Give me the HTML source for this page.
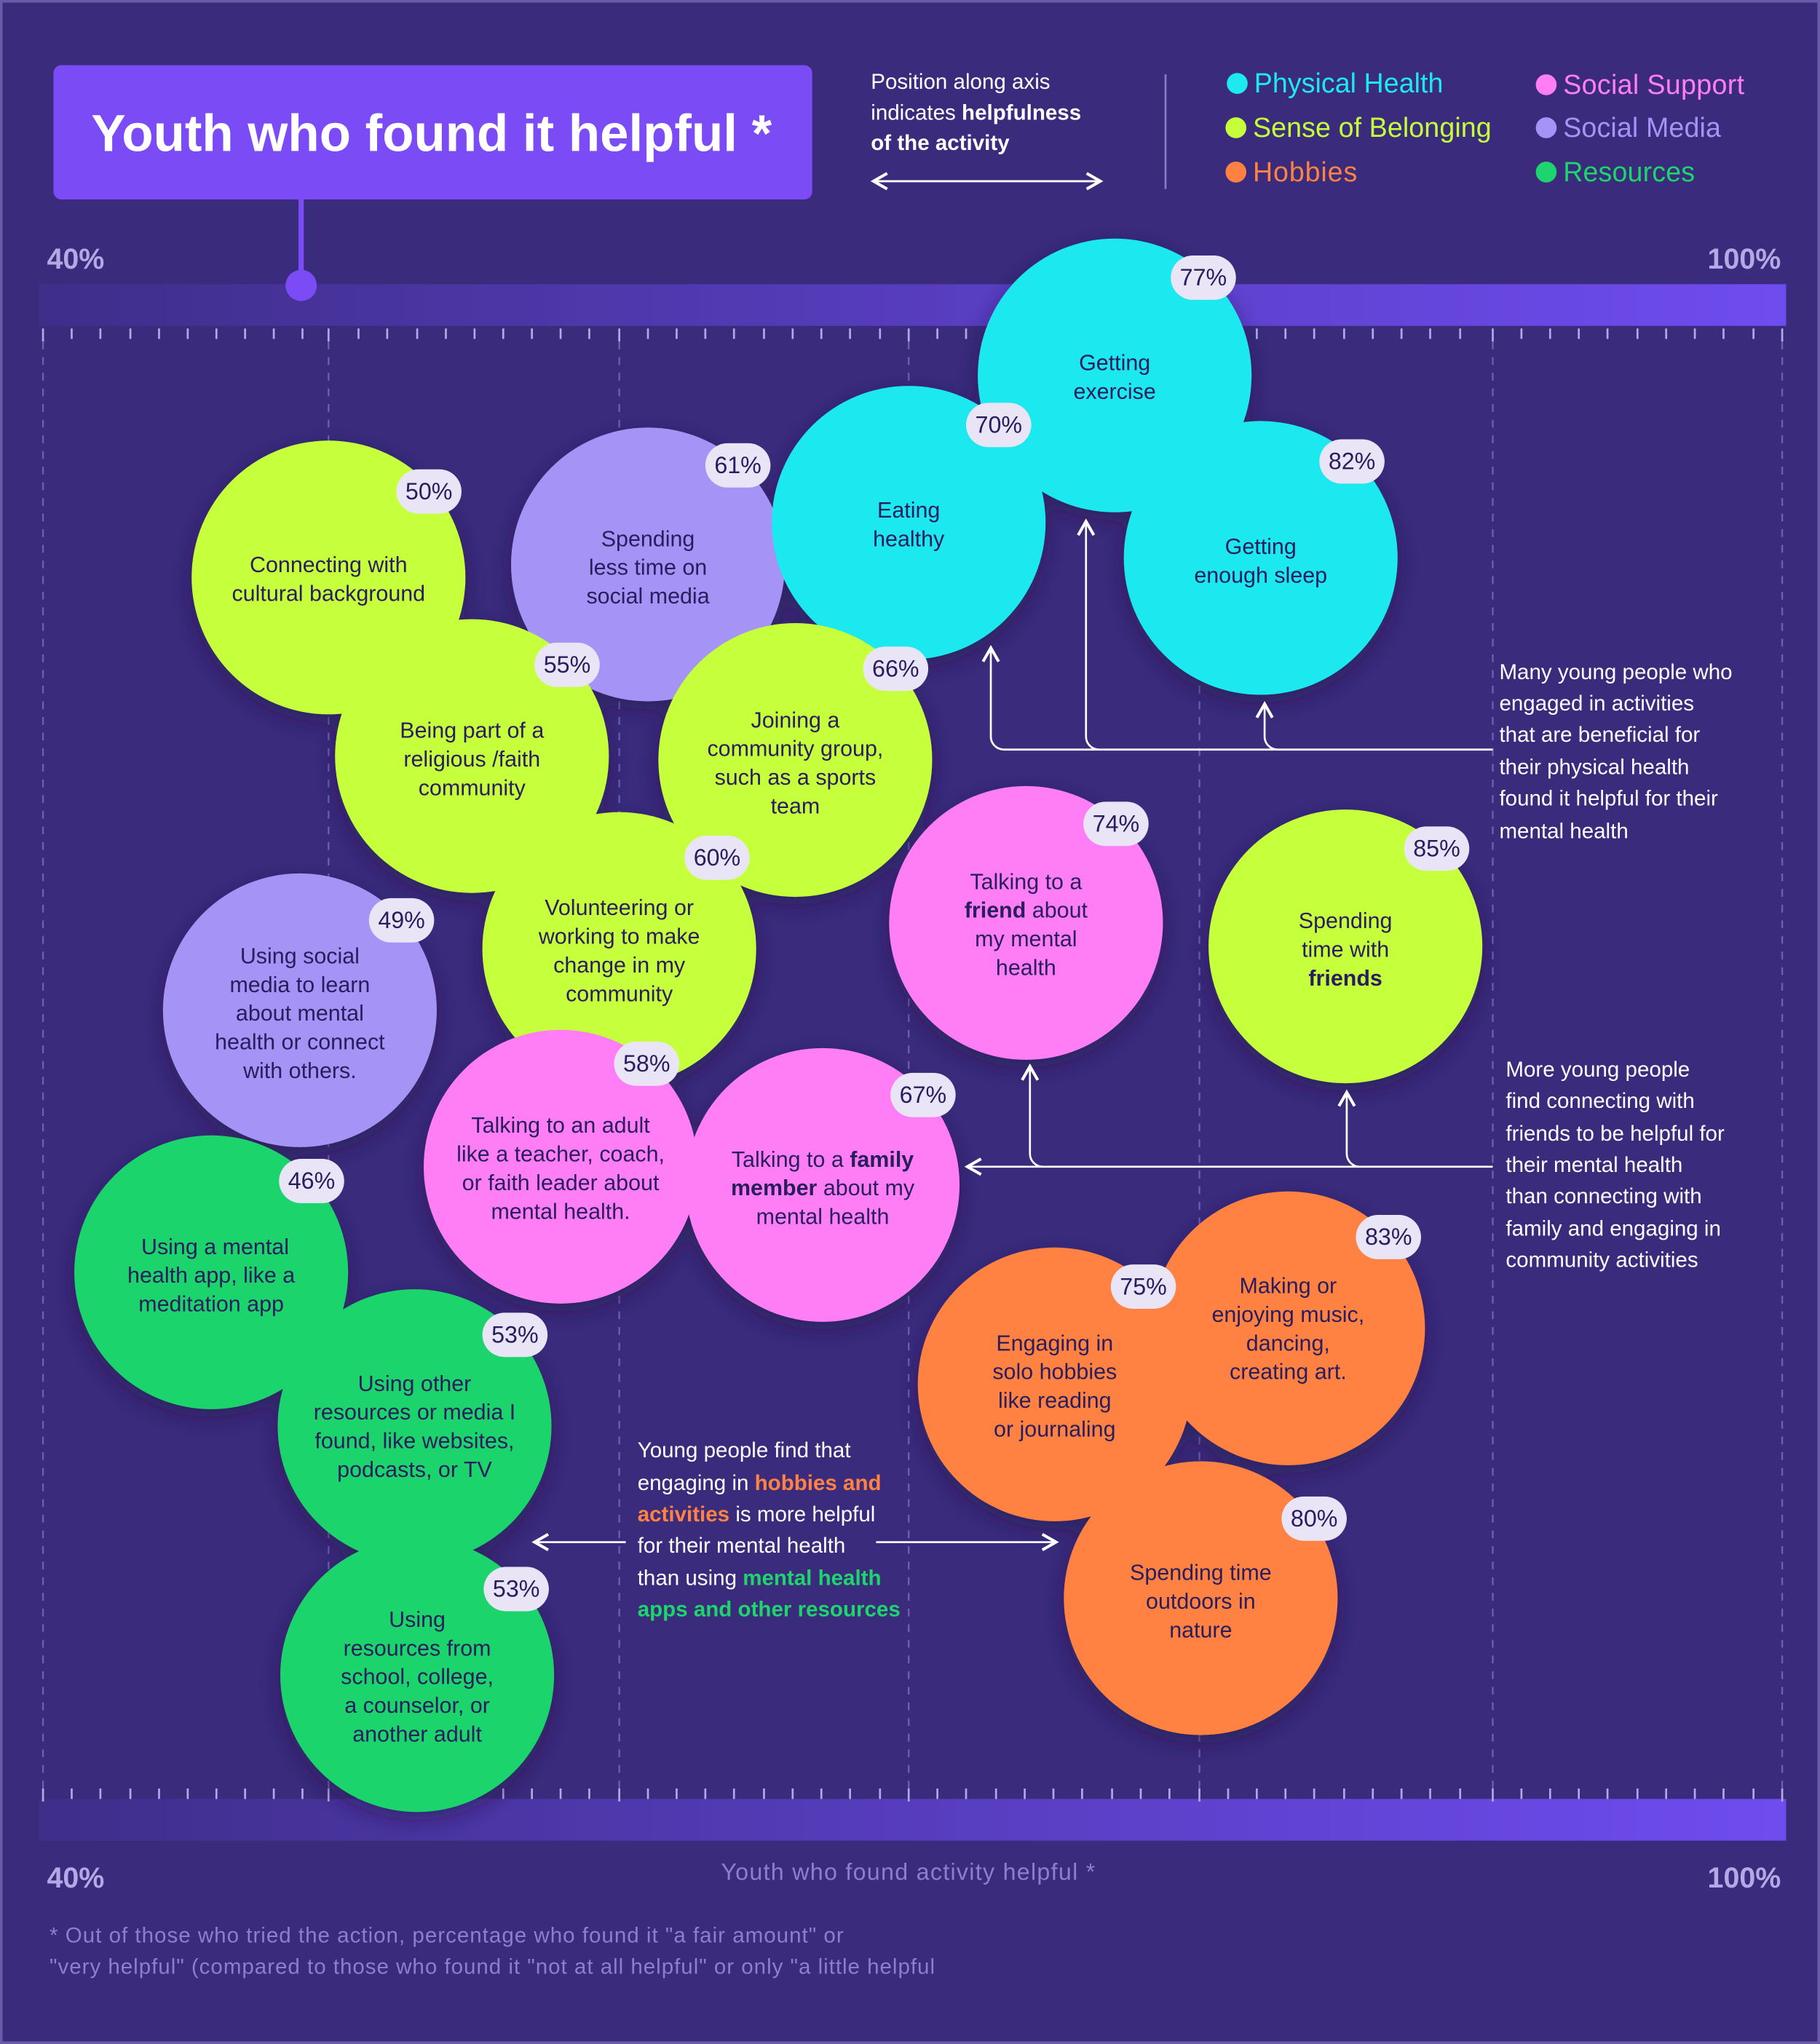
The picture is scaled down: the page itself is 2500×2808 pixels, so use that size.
<!DOCTYPE html>
<html><head><meta charset="utf-8"><style>
html,body{margin:0;padding:0;background:#3a2b7c;}
svg{display:block;font-family:"Liberation Sans",sans-serif;}
.c{font-size:17px;fill:#2a1d5e;text-anchor:middle;}
.b{font-size:18px;fill:#2a1d5e;text-anchor:middle;}
.w{font-size:16.5px;fill:#fff;}
</style></head><body>
<svg width="2500" height="2808" viewBox="0 0 1396 1568" preserveAspectRatio="none" xmlns="http://www.w3.org/2000/svg">
<defs>
<linearGradient id="bar" x1="0" x2="1"><stop offset="0" stop-color="#3f2e8a"/><stop offset="1" stop-color="#6e4cf0"/></linearGradient>
<filter id="sh" x="-30%" y="-30%" width="160%" height="160%"><feDropShadow dx="0" dy="6" stdDeviation="8" flood-color="#1a1040" flood-opacity="0.5"/></filter>
<marker id="ah" markerWidth="10" markerHeight="10" refX="8" refY="5" orient="auto"><path d="M1,1 L8,5 L1,9" fill="none" stroke="#fff" stroke-width="1.5"/></marker>
</defs>
<rect width="1396" height="1568" fill="#3a2b7c"/>
<rect x="1" y="1" width="1394" height="1566" fill="none" stroke="#6a5aa8" stroke-width="2"/>
<!-- title -->
<rect x="41" y="50" width="582" height="103" rx="6" fill="#7b4cf5"/>
<text x="70" y="116" font-size="40" font-weight="bold" fill="#fff" textLength="522" lengthAdjust="spacingAndGlyphs">Youth who found it helpful *</text>
<line x1="231" y1="153" x2="231" y2="219" stroke="#7b4cf5" stroke-width="4"/>
<!-- legend -->
<text x="668" y="68" class="w">Position along axis</text>
<text x="668" y="92" class="w">indicates <tspan font-weight="bold">helpfulness</tspan></text>
<text x="668" y="115" class="w" font-weight="bold">of the activity</text>
<line x1="670" y1="139" x2="844" y2="139" stroke="#fff" stroke-width="1.5" marker-end="url(#ah)"/>
<line x1="844" y1="139" x2="670" y2="139" stroke="#fff" stroke-width="1.5" marker-end="url(#ah)"/>
<line x1="894" y1="57" x2="894" y2="145" stroke="#8a7cc4" stroke-width="1.5"/>
<g font-size="21">
<circle cx="949" cy="64" r="8" fill="#1de9ef"/><text x="962" y="71" fill="#1de9ef" textLength="145">Physical Health</text>
<circle cx="948" cy="98" r="8" fill="#c6ff3a"/><text x="961" y="105" fill="#c6ff3a" textLength="183">Sense of Belonging</text>
<circle cx="948" cy="132" r="8" fill="#ff8243"/><text x="961" y="139" fill="#ff8243" textLength="80">Hobbies</text>
<circle cx="1186" cy="65" r="8" fill="#ff7ef5"/><text x="1199" y="72" fill="#ff7ef5" textLength="139">Social Support</text>
<circle cx="1186" cy="98" r="8" fill="#a594f5"/><text x="1199" y="105" fill="#a594f5" textLength="121">Social Media</text>
<circle cx="1186" cy="132" r="8" fill="#1ed46c"/><text x="1199" y="139" fill="#1ed46c" textLength="101">Resources</text>
</g>
<!-- axis -->
<text x="36" y="206" font-size="22" font-weight="bold" fill="#b4a8e6">40%</text>
<text x="1366" y="206" font-size="22" font-weight="bold" fill="#b4a8e6" text-anchor="end">100%</text>
<rect x="30" y="218" width="1340" height="32" fill="url(#bar)"/>
<circle cx="231" cy="219" r="12" fill="#7b4cf5"/>
<rect x="30" y="1380" width="1340" height="32" fill="url(#bar)"/>
<text x="36" y="1448" font-size="22" font-weight="bold" fill="#b4a8e6">40%</text>
<text x="1366" y="1448" font-size="22" font-weight="bold" fill="#b4a8e6" text-anchor="end">100%</text>
<text x="553" y="1442" font-size="18" fill="#8d7fd0" textLength="287">Youth who found activity helpful *</text>
<g id="ticks" stroke="#b4a8e6" stroke-width="1.5">
<path d="M33 252v10M55 252v8M77 252v8M100 252v8M122 252v8M144 252v8M166 252v8M188 252v8M210 252v8M232 252v8M252 252v10M275 252v8M297 252v8M320 252v8M342 252v8M364 252v8M386 252v8M408 252v8M430 252v8M452 252v8M475 252v10M497 252v8M519 252v8M541 252v8M563 252v8M586 252v8M608 252v8M630 252v8M652 252v8M675 252v8M697 252v10M719 252v8M741 252v8M764 252v8M786 252v8M808 252v8M830 252v8M853 252v8M875 252v8M897 252v8M920 252v10M942 252v8M964 252v8M986 252v8M1008 252v8M1031 252v8M1053 252v8M1075 252v8M1097 252v8M1120 252v8M1145 252v10M1167 252v8M1189 252v8M1211 252v8M1233 252v8M1256 252v8M1278 252v8M1300 252v8M1322 252v8M1345 252v8M1367 252v10"/>
</g>
<use href="#ticks" transform="translate(0,1120)"/>
<g stroke="#6e60b0" stroke-width="1.3" stroke-dasharray="6 6">
<line x1="33" y1="262" x2="33" y2="1372"/><line x1="252" y1="262" x2="252" y2="1372"/><line x1="475" y1="262" x2="475" y2="1372"/><line x1="697" y1="262" x2="697" y2="1372"/><line x1="920" y1="262" x2="920" y2="1372"/><line x1="1145" y1="262" x2="1145" y2="1372"/><line x1="1367" y1="262" x2="1367" y2="1372"/>
</g>
<!-- circles -->
<g filter="url(#sh)">
<circle cx="967" cy="428" r="105" fill="#1de9ef"/>
<circle cx="855" cy="288" r="105" fill="#1de9ef"/>
<circle cx="497" cy="433" r="105" fill="#a594f5"/>
<circle cx="697" cy="401" r="105" fill="#1de9ef"/>
<circle cx="252" cy="443" r="105" fill="#c6ff3a"/>
<circle cx="610" cy="583" r="105" fill="#c6ff3a"/>
<circle cx="362" cy="580" r="105" fill="#c6ff3a"/>
<circle cx="475" cy="728" r="105" fill="#c6ff3a"/>
<circle cx="787" cy="708" r="105" fill="#ff7ef5"/>
<circle cx="1032" cy="726" r="105" fill="#c6ff3a"/>
<circle cx="230" cy="775" r="105" fill="#a594f5"/>
<circle cx="430" cy="895" r="105" fill="#ff7ef5"/>
<circle cx="631" cy="909" r="105" fill="#ff7ef5"/>
<circle cx="162" cy="976" r="105" fill="#1ed46c"/>
<circle cx="320" cy="1285" r="105" fill="#1ed46c"/>
<circle cx="318" cy="1094" r="105" fill="#1ed46c"/>
<circle cx="988" cy="1019" r="105" fill="#ff8243"/>
<circle cx="921" cy="1226" r="105" fill="#ff8243"/>
<circle cx="809" cy="1062" r="105" fill="#ff8243"/>
</g>
<!-- circle text -->
<text class="c" x="855" y="284">Getting</text><text class="c" x="855" y="306">exercise</text>
<text class="c" x="697" y="397">Eating</text><text class="c" x="697" y="419">healthy</text>
<text class="c" x="967" y="425">Getting</text><text class="c" x="967" y="447">enough sleep</text>
<text class="c" x="252" y="439">Connecting with</text><text class="c" x="252" y="461">cultural background</text>
<text class="c" x="497" y="419">Spending</text><text class="c" x="497" y="441">less time on</text><text class="c" x="497" y="463">social media</text>
<text class="c" x="362" y="566">Being part of a</text><text class="c" x="362" y="588">religious /faith</text><text class="c" x="362" y="610">community</text>
<text class="c" x="610" y="558">Joining a</text><text class="c" x="610" y="580">community group,</text><text class="c" x="610" y="602">such as a sports</text><text class="c" x="610" y="624">team</text>
<text class="c" x="475" y="702">Volunteering or</text><text class="c" x="475" y="724">working to make</text><text class="c" x="475" y="746">change in my</text><text class="c" x="475" y="768">community</text>
<text class="c" x="787" y="682">Talking to a</text><text class="c" x="787" y="704"><tspan font-weight="bold">friend</tspan> about</text><text class="c" x="787" y="726">my mental</text><text class="c" x="787" y="748">health</text>
<text class="c" x="1032" y="712">Spending</text><text class="c" x="1032" y="734">time with</text><text class="c" x="1032" y="756" font-weight="bold">friends</text>
<text class="c" x="230" y="739">Using social</text><text class="c" x="230" y="761">media to learn</text><text class="c" x="230" y="783">about mental</text><text class="c" x="230" y="805">health or connect</text><text class="c" x="230" y="827">with others.</text>
<text class="c" x="430" y="869">Talking to an adult</text><text class="c" x="430" y="891">like a teacher, coach,</text><text class="c" x="430" y="913">or faith leader about</text><text class="c" x="430" y="935">mental health.</text>
<text class="c" x="631" y="895">Talking to a <tspan font-weight="bold">family</tspan></text><text class="c" x="631" y="917"><tspan font-weight="bold">member</tspan> about my</text><text class="c" x="631" y="939">mental health</text>
<text class="c" x="165" y="962">Using a mental</text><text class="c" x="162" y="984">health app, like a</text><text class="c" x="162" y="1006">meditation app</text>
<text class="c" x="318" y="1067">Using other</text><text class="c" x="318" y="1089">resources or media I</text><text class="c" x="318" y="1111">found, like websites,</text><text class="c" x="318" y="1133">podcasts, or TV</text>
<text class="c" x="320" y="1248">Using</text><text class="c" x="320" y="1270">resources from</text><text class="c" x="320" y="1292">school, college,</text><text class="c" x="320" y="1314">a counselor, or</text><text class="c" x="320" y="1336">another adult</text>
<text class="c" x="988" y="992">Making or</text><text class="c" x="988" y="1014">enjoying music,</text><text class="c" x="988" y="1036">dancing,</text><text class="c" x="988" y="1058">creating art.</text>
<text class="c" x="809" y="1036">Engaging in</text><text class="c" x="809" y="1058">solo hobbies</text><text class="c" x="809" y="1080">like reading</text><text class="c" x="809" y="1102">or journaling</text>
<text class="c" x="921" y="1212">Spending time</text><text class="c" x="921" y="1234">outdoors in</text><text class="c" x="921" y="1256">nature</text>
<!-- badges -->
<g fill="#e9e5f7">
<rect x="898" y="196" width="50" height="34" rx="17"/><rect x="741" y="309" width="50" height="34" rx="17"/><rect x="1012" y="337" width="50" height="34" rx="17"/>
<rect x="304" y="360" width="50" height="34" rx="17"/><rect x="541" y="340" width="50" height="34" rx="17"/><rect x="410" y="493" width="50" height="34" rx="17"/>
<rect x="662" y="496" width="50" height="34" rx="17"/><rect x="525" y="641" width="50" height="34" rx="17"/><rect x="831" y="615" width="50" height="34" rx="17"/>
<rect x="1077" y="634" width="50" height="34" rx="17"/><rect x="283" y="689" width="50" height="34" rx="17"/><rect x="471" y="799" width="50" height="34" rx="17"/>
<rect x="683" y="823" width="50" height="34" rx="17"/><rect x="214" y="889" width="50" height="34" rx="17"/><rect x="370" y="1007" width="50" height="34" rx="17"/>
<rect x="371" y="1202" width="50" height="34" rx="17"/><rect x="1040" y="932" width="50" height="34" rx="17"/><rect x="852" y="970" width="50" height="34" rx="17"/>
<rect x="983" y="1148" width="50" height="34" rx="17"/>
</g>
<g class="b">
<text class="b" x="923" y="219">77%</text><text class="b" x="766" y="332">70%</text><text class="b" x="1037" y="360">82%</text>
<text class="b" x="329" y="383">50%</text><text class="b" x="566" y="363">61%</text><text class="b" x="435" y="516">55%</text>
<text class="b" x="687" y="519">66%</text><text class="b" x="550" y="664">60%</text><text class="b" x="856" y="638">74%</text>
<text class="b" x="1102" y="657">85%</text><text class="b" x="308" y="712">49%</text><text class="b" x="496" y="822">58%</text>
<text class="b" x="708" y="846">67%</text><text class="b" x="239" y="912">46%</text><text class="b" x="395" y="1030">53%</text>
<text class="b" x="396" y="1225">53%</text><text class="b" x="1065" y="955">83%</text><text class="b" x="877" y="993">75%</text>
<text class="b" x="1008" y="1171">80%</text>
</g>
<!-- connectors -->
<g fill="none" stroke="#fff" stroke-width="1.5">
<path d="M1145 575 H770 a10 10 0 0 1 -10 -10 V497" marker-end="url(#ah)"/>
<path d="M843 575 a10 10 0 0 1 -10 -10 V400" marker-end="url(#ah)"/>
<path d="M980 575 a10 10 0 0 1 -10 -10 V540" marker-end="url(#ah)"/>
<path d="M1145 895 H742" marker-end="url(#ah)"/>
<path d="M800 895 a10 10 0 0 1 -10 -10 V818" marker-end="url(#ah)"/>
<path d="M1043 895 a10 10 0 0 1 -10 -10 V838" marker-end="url(#ah)"/>
<path d="M480 1183 H410" marker-end="url(#ah)"/>
<path d="M672 1183 H810" marker-end="url(#ah)"/>
</g>
<!-- annotations -->
<g class="w">
<text x="1150" y="521" class="w">Many young people who</text><text x="1150" y="545" class="w">engaged in activities</text><text x="1150" y="569" class="w">that are beneficial for</text><text x="1150" y="594" class="w">their physical health</text><text x="1150" y="618" class="w">found it helpful for their</text><text x="1150" y="643" class="w">mental health</text>
<text x="1155" y="826" class="w">More young people</text><text x="1155" y="850" class="w">find connecting with</text><text x="1155" y="875" class="w">friends to be helpful for</text><text x="1155" y="899" class="w">their mental health</text><text x="1155" y="923" class="w">than connecting with</text><text x="1155" y="948" class="w">family and engaging in</text><text x="1155" y="972" class="w">community activities</text>
<text x="489" y="1118" class="w">Young people find that</text>
<text x="489" y="1143" class="w">engaging in <tspan fill="#ff8243" font-weight="bold">hobbies and</tspan></text>
<text x="489" y="1167" class="w"><tspan fill="#ff8243" font-weight="bold">activities</tspan> is more helpful</text>
<text x="489" y="1191" class="w">for their mental health</text>
<text x="489" y="1216" class="w">than using <tspan fill="#1ed46c" font-weight="bold">mental health</tspan></text>
<text x="489" y="1240" class="w" font-weight="bold" style="fill:#1ed46c">apps and other resources</text>
</g>
<text x="38" y="1490" font-size="16.5" fill="#8d7fd0" textLength="609">* Out of those who tried the action, percentage who found it "a fair amount" or</text>
<text x="38" y="1514" font-size="16.5" fill="#8d7fd0" textLength="679">"very helpful" (compared to those who found it "not at all helpful" or only "a little helpful</text>
</svg>
</body></html>
